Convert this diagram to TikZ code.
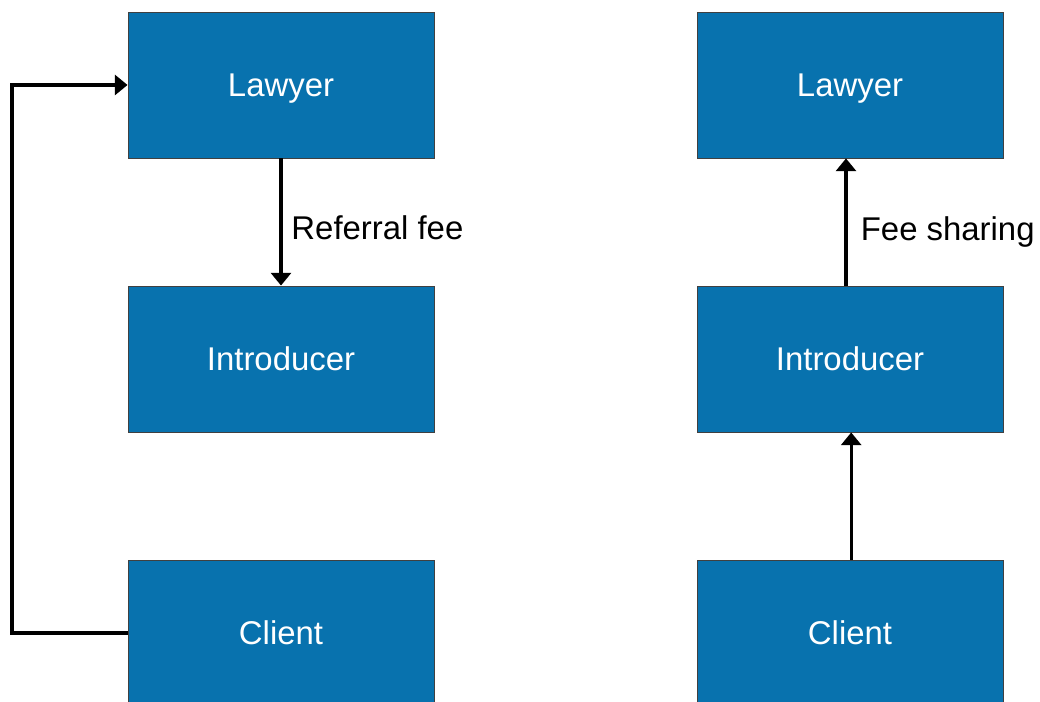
\documentclass[tikz,border=0pt]{standalone}
\usepackage{fontspec}
\setmainfont{Liberation Sans}
\usetikzlibrary{arrows.meta}
\definecolor{partyblue}{HTML}{0872AE}

\begin{document}
\begin{tikzpicture}[>={Triangle[length=3.2mm, width=5mm]},
    every node/.style={font=\fontsize{23.4}{28}\selectfont},
    party/.style={draw=black!75, line width=0.6pt, fill=partyblue, text=white, minimum width=7.65cm, minimum height=3.65cm, inner sep=0pt, text depth=0pt},
    flow/.style={->, line width=2.4pt}]
  \useasboundingbox (0,0) rectangle (26,17.55);
  % left: referral fee
  \node[party] (lawyerA) at (7.025,15.425) {Lawyer};
  \node[party] (introA) at (7.025,8.575) {Introducer};
  \node[party] (clientA) at (7.025,1.725) {Client};
  \coordinate (loop) at (0.3,0);
  \draw[flow] (lawyerA) -- (introA) node[midway, right, inner sep=0pt, xshift=2.2mm, yshift=-1.5mm] {Referral fee};
  \draw[flow] (clientA.west) -- (clientA.west -| loop) -- (lawyerA.west -| loop) -- (lawyerA.west);
  % right: fee sharing
  \node[party] (lawyerB) at (21.25,15.425) {Lawyer};
  \node[party] (introB) at (21.25,8.575) {Introducer};
  \node[party] (clientB) at (21.25,1.725) {Client};
  \draw[flow] ([xshift=-1mm]introB.north) -- ([xshift=-1mm]lawyerB.south) node[midway, right, inner sep=0pt, xshift=3.3mm, yshift=-2.5mm] {Fee sharing};
  \draw[flow] ([xshift=0.3mm]clientB.north) -- ([xshift=0.3mm]introB.south);
\end{tikzpicture}
\end{document}
